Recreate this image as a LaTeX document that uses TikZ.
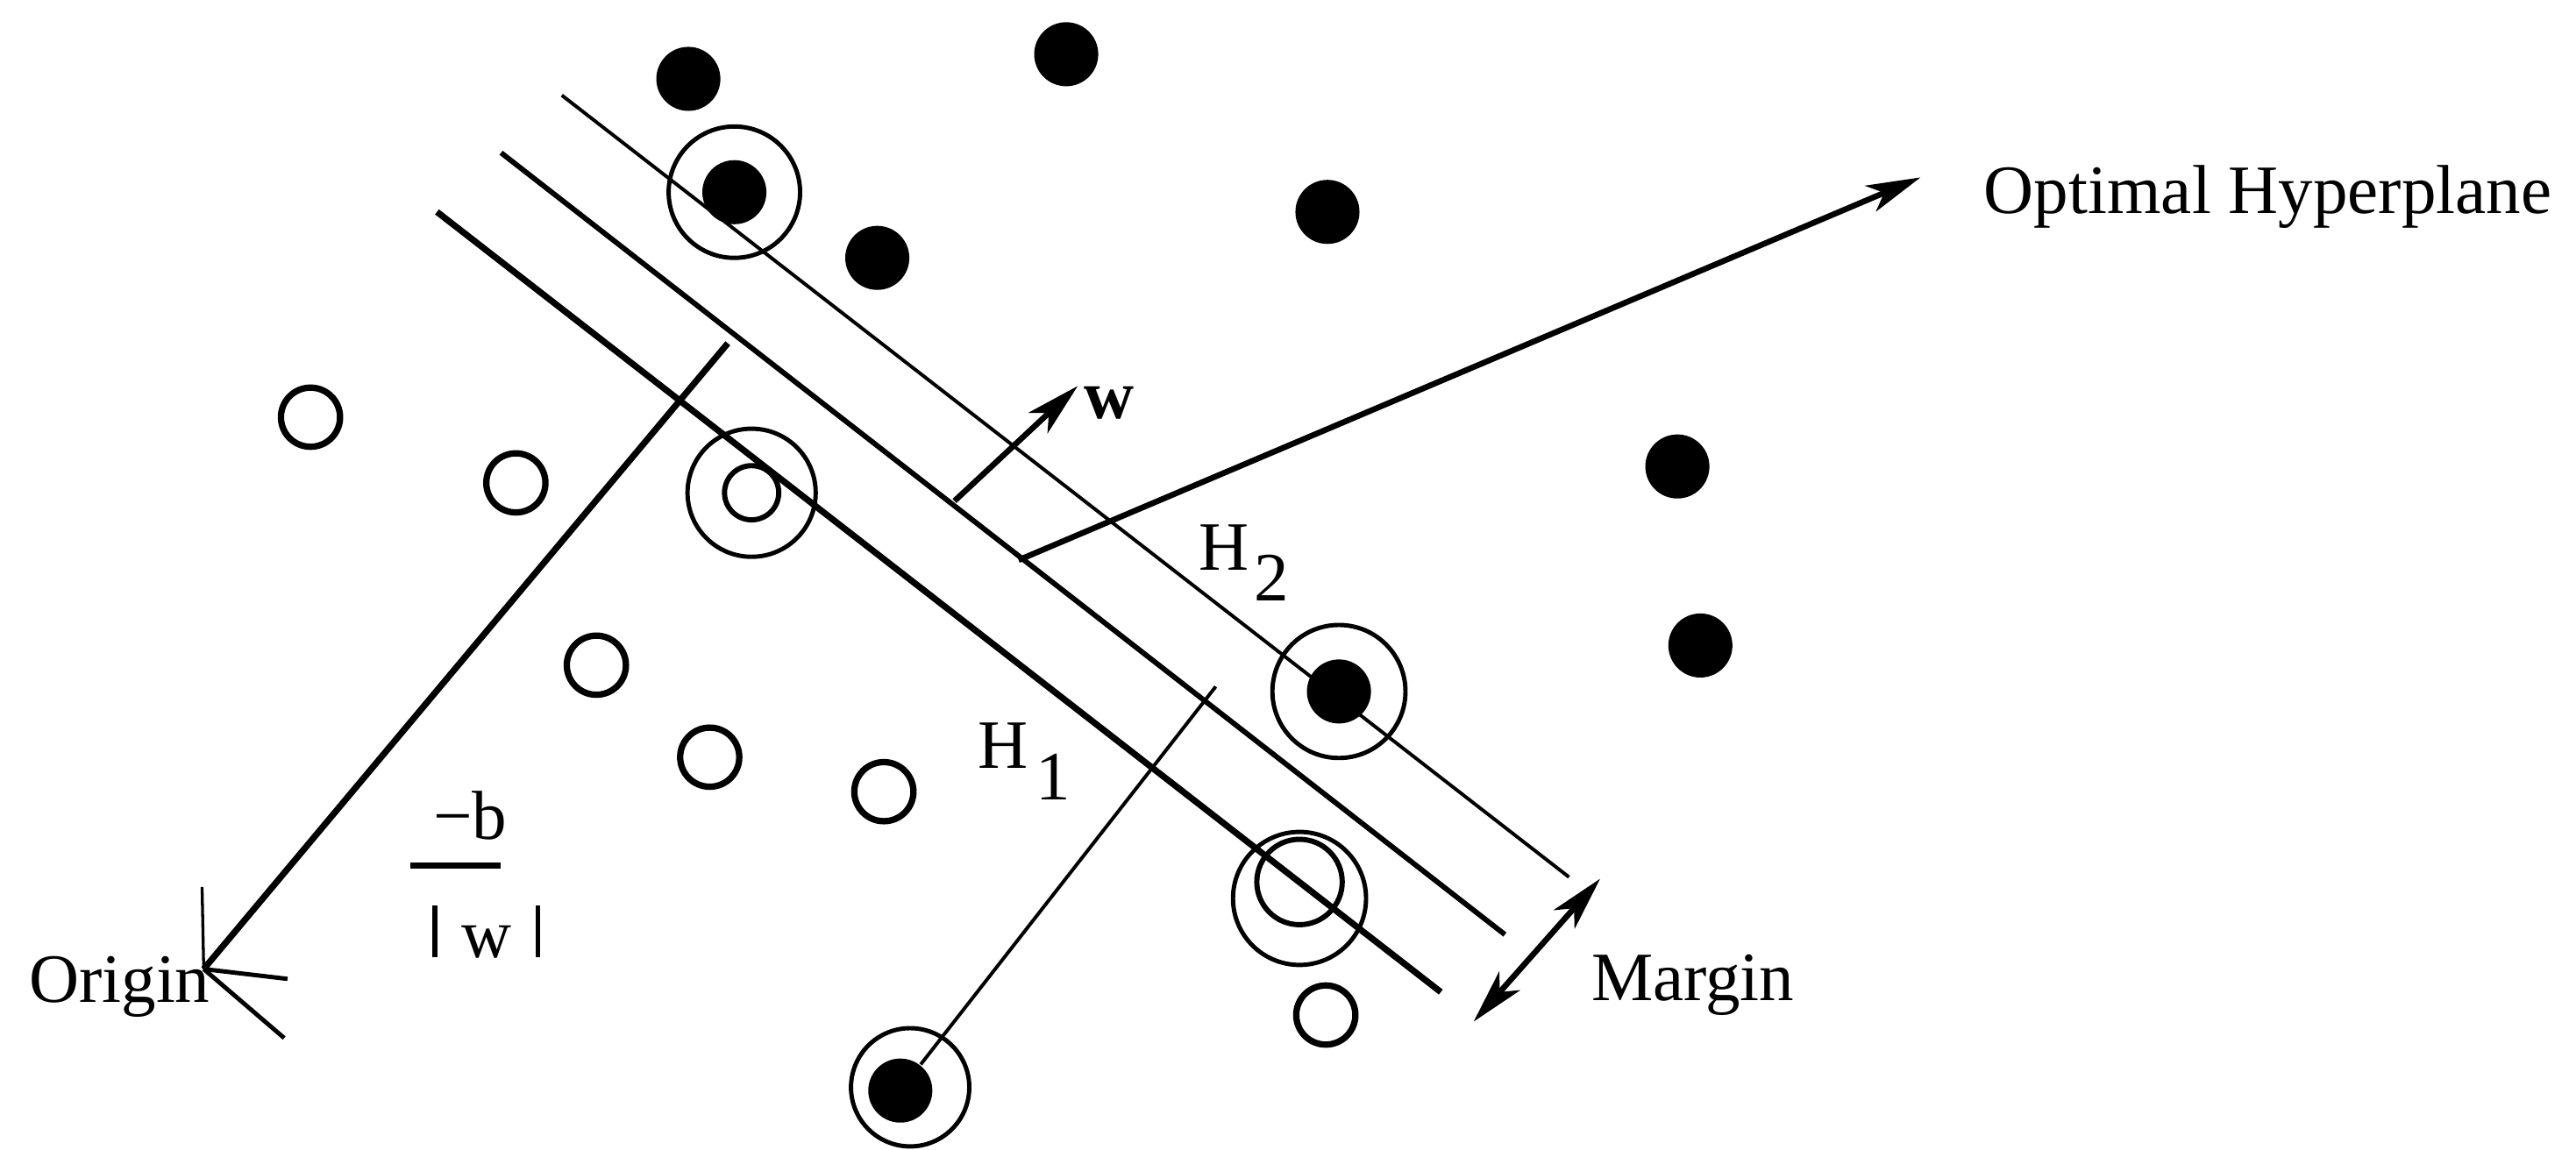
\documentclass[tikz,border=0pt]{standalone}
\usepackage{fontspec}
\setmainfont{Liberation Serif}
\usetikzlibrary{arrows.meta}

\begin{document}
\begin{tikzpicture}[
    every node/.style={font=\fontsize{12}{14}\selectfont, inner sep=0pt},
    lbl/.style={anchor=base west},
    blackdot/.style={circle, fill=black, minimum size=3.9mm},
    whitedot/.style={circle, draw, line width=1.1pt, minimum size=3.6mm},
    svring/.style={circle, draw, line width=0.75pt, minimum size=8mm},
    arr/.style={line width=1pt, -{Stealth[length=3.3mm, width=1.7mm, inset=0.9mm]}},
    darr/.style={line width=1pt, {Stealth[length=3.3mm, width=1.7mm, inset=0.9mm]}-{Stealth[length=3.3mm, width=1.7mm, inset=0.9mm]}}
]
\useasboundingbox (0,0) rectangle (15.68,-7.00);

% Hyperplanes H2, optimal, H1
\coordinate (h2a) at (3.42,-0.58);
\coordinate (h2b) at (9.55,-5.34);
\coordinate (opa) at (3.05,-0.93);
\coordinate (opb) at (9.16,-5.69);
\coordinate (h1a) at (2.66,-1.29);
\coordinate (h1b) at (8.77,-6.04);
\draw[line width=0.6pt] (h2a) -- (h2b);
\draw[line width=0.9pt] (opa) -- (opb);
\draw[line width=1.1pt] (h1a) -- (h1b);

% Filled points
\node[blackdot] (p1) at (4.19,-0.48) {};
\node[blackdot] (p2) at (6.49,-0.33) {};
\node[blackdot] (p3) at (4.47,-1.17) {};
\node[blackdot] (p4) at (5.34,-1.57) {};
\node[blackdot] (p5) at (8.08,-1.29) {};
\node[blackdot] (p6) at (10.21,-2.84) {};
\node[blackdot] (p7) at (10.35,-3.93) {};
\node[blackdot] (p8) at (8.15,-4.21) {};
\node[blackdot] (p9) at (5.48,-6.64) {};

% Open points
\node[whitedot] (n1) at (1.89,-2.54) {};
\node[whitedot] (n2) at (3.14,-2.94) {};
\node[whitedot, minimum size=3.3mm, line width=0.9pt] (n3) at (4.575,-3.00) {};
\node[whitedot] (n4) at (3.63,-4.05) {};
\node[whitedot] (n5) at (4.32,-4.61) {};
\node[whitedot] (n6) at (5.38,-4.82) {};
\node[whitedot, minimum size=5.2mm, line width=0.9pt] (n7) at (7.91,-5.37) {};
\node[whitedot] (n8) at (8.07,-6.18) {};

% Support vectors
\node[svring] (s1) at (4.47,-1.17) {};
\node[svring, minimum size=7.8mm] (s2) at (4.575,-3.00) {};
\node[svring, minimum size=8.1mm] (s3) at (8.15,-4.21) {};
\node[svring, minimum size=8.1mm] (s4) at (7.91,-5.47) {};
\node[svring, minimum size=7.2mm] (s5) at (5.54,-6.62) {};

% Origin and distance to hyperplane
\coordinate (orig) at (1.24,-5.90);
\coordinate (foot) at (4.43,-2.09);
\coordinate (ax) at (1.75,-5.96);
\coordinate (ay) at (1.73,-6.32);
\coordinate (az) at (1.23,-5.40);
\draw[line width=1.1pt] (foot) -- (orig);
\draw[line width=0.5pt] (orig) -- (az);
\draw[line width=0.75pt] (orig) -- (ax);
\draw[line width=0.75pt] (orig) -- (ay);

% Normal vector w
\coordinate (wa) at (5.81,-3.05);
\coordinate (wb) at (6.56,-2.35);
\draw[arr] (wa) -- (wb);

% Support vector to hyperplane
\coordinate (svtop) at (7.40,-4.18);
\draw[line width=0.6pt] (p9) -- (svtop);

% Pointer to optimal hyperplane
\coordinate (hp0) at (6.20,-3.41);
\coordinate (hp1) at (11.69,-1.08);
\draw[arr] (hp0) -- (hp1);

% Margin
\coordinate (ma) at (8.97,-6.22);
\coordinate (mb) at (9.74,-5.35);
\draw[darr] (ma) -- (mb);

% Labels
\node[lbl] (hyp) at (12.07,-1.30) {Optimal Hyperplane};
\node[lbl] (margin) at (9.68,-6.09) {Margin};
\node[lbl] (origin) at (0.17,-6.10) {Origin};
\node[lbl] (h2) at (7.29,-3.47) {H\kern1pt\raisebox{-5.4pt}{2}};
\node[lbl] (h1) at (5.945,-4.675) {H\kern1.4pt\raisebox{-5.5pt}{1}};
\node[lbl] (wlbl) at (6.59,-2.55) {\textbf{w}};
\node[lbl] (num) at (2.63,-5.11) {−b};
\node[lbl] (den) at (2.626,-5.83) {\rule{0.8pt}{9pt}\hspace{4.2pt}w\hspace{4.2pt}\rule{0.8pt}{9pt}};
\coordinate (fbl) at (2.50,-5.27);
\coordinate (fbr) at (3.05,-5.27);
\draw[line width=1pt] (fbl) -- (fbr);

\end{tikzpicture}
\end{document}
